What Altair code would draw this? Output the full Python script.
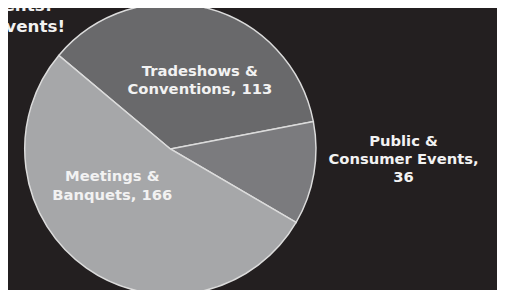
import altair as alt
import pandas as pd

categories = ["Tradeshows &\nConventions", "Public &\nConsumer Events", "Meetings &\nBanquets"]
values = [113, 36, 166]
value_sep = [", ", ",\n", ", "]
slice_colors = ["#69696b", "#7b7b7e", "#a6a7a9"]
headline = ["vents!", "events!"]

df = pd.DataFrame({
    "category": categories,
    "value": values,
    "order": list(range(len(categories))),
    "label": [c + s + str(v) for c, s, v in zip(categories, value_sep, values)],
})

start = -0.873
pie = alt.Chart(df).mark_arc(radius=148, stroke="#dcdcdc", strokeWidth=1.5).encode(
    theta=alt.Theta("value:Q", stack=True, scale=alt.Scale(range=[start, start + 6.28319])),
    color=alt.Color("category:N", scale=alt.Scale(domain=categories, range=slice_colors), legend=None),
    order=alt.Order("order:Q"),
    x=alt.value(165),
    y=alt.value(141),
)

label_pos = {categories[0]: (195, 62), categories[1]: (402, 133), categories[2]: (106, 169)}
texts = []
for cat, (px, py) in label_pos.items():
    texts.append(
        alt.Chart(df).transform_filter(alt.datum.category == cat).mark_text(
            font="DejaVu Sans", fontWeight="bold", fontSize=15, color="#f2f2f2",
            align="center", baseline="middle", lineBreak="\n", lineHeight=18.5,
        ).encode(text="label:N", x=alt.value(px), y=alt.value(py))
    )

hdf = pd.DataFrame({"t": headline, "i": [0, 1]})
head_pos = [(45, 1), (58, 22)]
for i, (px, py) in enumerate(head_pos):
    texts.append(
        alt.Chart(hdf).transform_filter(alt.datum.i == i).mark_text(
            font="DejaVu Sans", fontWeight="bold", fontSize=17, color="#f2f2f2",
            align="right", baseline="alphabetic",
        ).encode(text="t:N", x=alt.value(px), y=alt.value(py))
    )

chart = alt.layer(pie, *texts).properties(
    width=497, height=282, padding=0, background="#231f20",
    autosize=alt.AutoSizeParams(type="none"),
).configure_view(stroke=None)

chart.save("out.html", embed_options={"renderer": "svg", "actions": False})
